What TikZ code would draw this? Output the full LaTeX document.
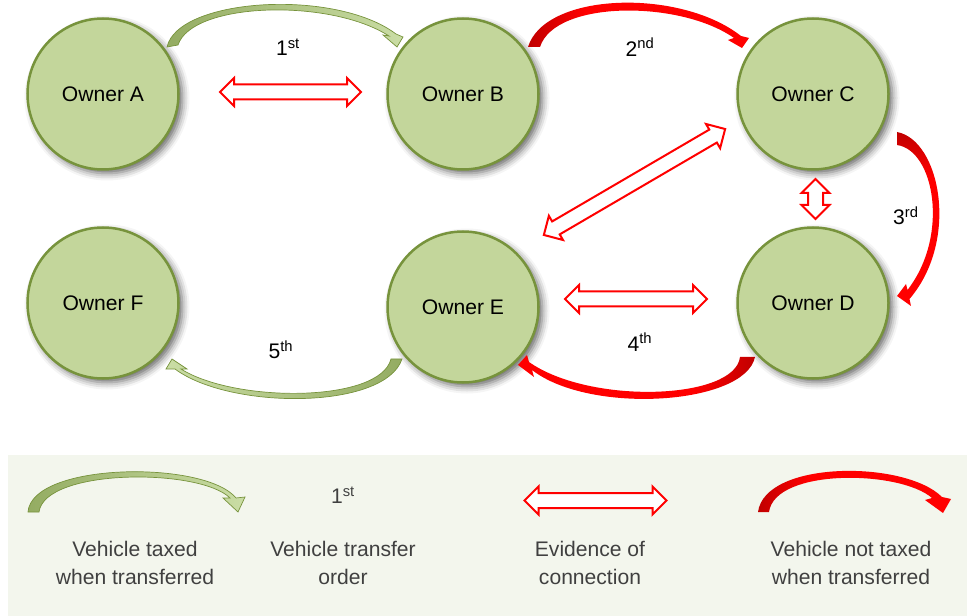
\documentclass[tikz,border=0pt]{standalone}
\usepackage{fontspec}
\setmainfont{Liberation Sans}
\usetikzlibrary{shapes.arrows,shadows.blur}

\newdimen\pxu \pxu=0.025cm

\definecolor{ownerfill}{RGB}{195,214,155}
\definecolor{ownerline}{RGB}{119,147,60}
\definecolor{taxdark}{RGB}{148,172,98}
\definecolor{taxlight}{RGB}{202,221,165}
\definecolor{untaxdark}{RGB}{192,0,0}
\definecolor{untaxlight}{RGB}{255,0,0}
\definecolor{legendbg}{RGB}{243,246,237}
\definecolor{legendtext}{RGB}{64,64,64}

% gradients for the curved transfer arrows, dark at the tail
\pgfdeclarehorizontalshading{greentail}{100bp}{color(0bp)=(taxdark); color(25bp)=(taxdark); color(75bp)=(taxlight); color(100bp)=(taxlight)}
\pgfdeclarehorizontalshading{redtail}{100bp}{color(0bp)=(untaxdark); color(25bp)=(untaxdark); color(38bp)=(untaxlight); color(100bp)=(untaxlight)}

\begin{document}
\begin{tikzpicture}[x=0.025cm, y=-0.025cm,
  owner/.style={circle, minimum size=151\pxu, inner sep=0pt, fill=ownerfill,
    draw=ownerline, line width=2.5\pxu,
    blur shadow={shadow xshift=4\pxu, shadow yshift=-4\pxu, shadow blur radius=7\pxu, shadow opacity=60},
    font=\fontsize{15}{18}\selectfont},
  linkarrow/.style={double arrow, draw=red, fill=white, line width=2\pxu,
    inner xsep=0pt, inner ysep=6.5\pxu, double arrow head extend=6.5\pxu,
    minimum width=0pt, double arrow tip angle=90, line join=miter},
  taxed/.style={draw=ownerline, line width=0.7\pxu, line join=miter, shading=greentail},
  untaxed/.style={shading=redtail},
  order/.style={font=\fontsize{15}{18}\selectfont, inner sep=0pt},
  legendlabel/.style={align=center, text=legendtext, font=\fontsize{15}{20}\selectfont}]

\useasboundingbox (0,0) rectangle (967,616);

% legend panel
\fill[legendbg] (8,455) rectangle (967,616);

% owners
\node[owner] (A) at (103,94) {Owner A};
\node[owner] (B) at (463,94) {Owner B};
\node[owner] (C) at (813,94) {Owner C};
\node[owner] (F) at (103,303) {Owner F};
\node[owner] (E) at (463,307) {Owner E};
\node[owner] (D) at (813,303) {Owner D};

% evidence of connection
\node[linkarrow, minimum height=141\pxu] (ab) at (290.5,92) {};
\node[linkarrow, minimum height=142\pxu] (ed) at (636,299) {};
\node[linkarrow, minimum height=40\pxu, rotate=90] (cd) at (815.5,199) {};
\node[linkarrow, minimum height=210\pxu, rotate=30.3] (ce) at (634.5,182) {};

% 1st transfer A -> B (taxed)
\path[taxed, shading angle=0] (167,47) .. controls (178,-2) and (335,-12) .. (396,34)
  -- (403,37) -- (397,47) -- (383,35) -- (389,36)
  .. controls (330,-2) and (192,2) .. (178,45) -- cycle;
% 2nd transfer B -> C (not taxed)
\path[untaxed, shading angle=0] (528,47) .. controls (545,-8) and (680,-12) .. (741,36)
  -- (749,38) -- (742,48) -- (728,40) -- (734,38)
  .. controls (680,0) and (555,0) .. (540,47) -- cycle;
% 3rd transfer C -> D (not taxed)
\path[untaxed, shading angle=-90] (897,132) .. controls (940,140) and (960,240) .. (909.5,299)
  -- (911,306) -- (897,296) -- (906,284) -- (907.5,290)
  .. controls (950,235) and (934,150) .. (897,145) -- cycle;
% 4th transfer D -> E (not taxed)
\path[untaxed, shading angle=180] (755,357) .. controls (745,405) and (590,415) .. (532,370)
  -- (534,377) -- (518,365) -- (527,355) -- (529,362)
  .. controls (590,405) and (735,400) .. (740,357) -- cycle;
% 5th transfer E -> F (taxed)
\path[taxed, shading angle=180] (402,359) .. controls (385,410) and (230,410) .. (175,369)
  -- (166,369) -- (172,359) -- (187,369) -- (181,369)
  .. controls (235,403) and (380,403) .. (391,359) -- cycle;

% transfer order
\node[order] (o1) at (288,47) {1\textsuperscript{st}};
\node[order] (o2) at (640,47) {2\textsuperscript{nd}};
\node[order] (o3) at (906,216) {3\textsuperscript{rd}};
\node[order] (o4) at (640,342) {4\textsuperscript{th}};
\node[order] (o5) at (281,350) {5\textsuperscript{th}};

% legend symbols
\path[taxed, shading angle=0] (28,512) .. controls (32,462) and (205,460) .. (236,498)
  -- (245,497) -- (238,512) -- (223,498) -- (230,498)
  .. controls (200,468) and (45,468) .. (39,512) -- cycle;
\node[order, text=legendtext] (lo) at (343,495) {1\textsuperscript{st}};
\node[linkarrow, minimum height=142\pxu] (lc) at (595.5,500.5) {};
\path[untaxed, shading angle=0] (758,512) .. controls (765,460) and (905,460) .. (942,497)
  -- (951,499) -- (943,513) -- (925,500) -- (932,498)
  .. controls (900,470) and (775,468) .. (769,512) -- cycle;

% legend texts
\node[legendlabel] (l1) at (135,563) {Vehicle taxed\\when transferred};
\node[legendlabel] (l2) at (343,563) {Vehicle transfer\\order};
\node[legendlabel] (l3) at (590,563) {Evidence of\\connection};
\node[legendlabel] (l4) at (851,563) {Vehicle not taxed\\when transferred};
\end{tikzpicture}
\end{document}
